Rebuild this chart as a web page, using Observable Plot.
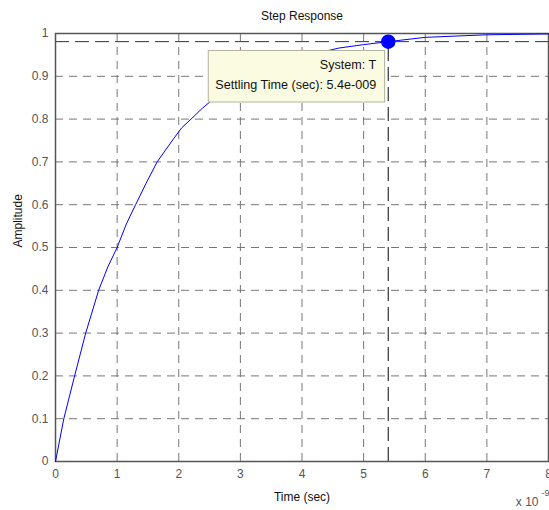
<!DOCTYPE html>
<html><head><meta charset="utf-8">
<script src="https://cdn.jsdelivr.net/npm/d3@7"></script>
<script src="https://cdn.jsdelivr.net/npm/@observablehq/plot@0.6"></script>
<style>
body{margin:0;background:#fff}
svg{font-family:"Liberation Sans",Arial,sans-serif}
</style>
</head><body><div id="chart"></div>
<script>
const title = "Step Response";
const xLabel = "Time (sec)";
const yLabel = "Amplitude";
const xExponentBase = "x 10";
const xExponent = "-9";
const time =      [0, 0.135, 0.31, 0.49, 0.7, 0.85, 1.0, 1.15, 1.3, 1.47, 1.65, 1.92, 2.05, 2.2, 2.38, 2.57, 2.8, 3.0, 3.25, 3.5, 3.75, 4.0, 4.3, 4.6, 5.0, 5.4, 6.0, 7.0, 8.0];
const amplitude = [0, 0.1, 0.2, 0.3, 0.4, 0.455, 0.5, 0.555, 0.6, 0.65, 0.7, 0.755, 0.78, 0.80, 0.825, 0.848, 0.866, 0.878, 0.898, 0.915, 0.93, 0.942, 0.956, 0.966, 0.974, 0.981, 0.991, 0.997, 0.999];
const xTicks = [0, 1, 2, 3, 4, 5, 6, 7, 8];
const yTicks = [0, 0.1, 0.2, 0.3, 0.4, 0.5, 0.6, 0.7, 0.8, 0.9, 1];
const settlingTime = 5.4;
const settlingLevel = 0.981;
const tipLines = ["System: T", "Settling Time (sec): 5.4e-009"];

const data = time.map((t, i) => ({t, a: amplitude[i]}));
const marker = [{t: settlingTime, a: settlingLevel}];
const grey = "#555";

const plot = Plot.plot({
  width: 549, height: 510,
  marginLeft: 55, marginRight: 1, marginTop: 33, marginBottom: 49,
  style: {fontFamily: '"Liberation Sans", Arial, sans-serif', background: "#fff"},
  x: {domain: [0, 8]},
  y: {domain: [0, 1]},
  marks: [
    Plot.gridX(xTicks.slice(1, -1), {stroke: "#777", strokeOpacity: 1, strokeDasharray: "8,6"}),
    Plot.gridY(yTicks.slice(1, -1), {stroke: "#777", strokeOpacity: 1, strokeDasharray: "8,6"}),
    Plot.ruleY([settlingLevel], {stroke: "#333", strokeWidth: 1, strokeDasharray: "14,6"}),
    Plot.ruleX([settlingTime], {y1: 0, y2: settlingLevel, stroke: "#333", strokeWidth: 1.2, strokeDasharray: "14,6"}),
    Plot.frame({stroke: grey, strokeWidth: 1.5}),
    Plot.axisX({ticks: xTicks, tickSize: 0, tickPadding: 8, fontSize: 12, fill: grey, label: null, tickFormat: d => String(d)}),
    Plot.axisY({ticks: yTicks, tickSize: 0, tickPadding: 7, fontSize: 12, fill: grey, label: null, tickFormat: d => String(+d.toFixed(1))}),
    Plot.line(data, {x: "t", y: "a", stroke: "#0000ff", strokeWidth: 1}),
    Plot.dot(marker, {x: "t", y: "a", r: 6.5, fill: "#0000ff", stroke: "#0000ff"}),
    Plot.text([tipLines.join("\n")], {x: () => settlingTime, y: () => settlingLevel, text: d => d, dx: -12, dy: 14, textAnchor: "end", lineAnchor: "top", lineHeight: 1.55, fontSize: 12.6, fill: "#111"}),
    Plot.text([title], {frameAnchor: "top", lineAnchor: "middle", dy: -17, fontSize: 12, fill: "#111"}),
    Plot.text([xLabel], {frameAnchor: "bottom", lineAnchor: "middle", dy: 36, fontSize: 12, fill: "#111"}),
    Plot.text([yLabel], {frameAnchor: "left", lineAnchor: "middle", dx: -37, rotate: -90, fontSize: 12, fill: "#111"}),
    Plot.text([xExponentBase], {frameAnchor: "bottom-right", lineAnchor: "middle", dx: -10, dy: 41, textAnchor: "end", fontSize: 12, fill: grey}),
    Plot.text([xExponent], {frameAnchor: "bottom-right", lineAnchor: "middle", dx: -7, dy: 32, textAnchor: "start", fontSize: 9, fill: grey})
  ]
});
document.getElementById("chart").append(plot);

// background box for the data tip
const tipText = Array.from(plot.querySelectorAll("text")).find(t => t.textContent.includes("Settling"));
if (tipText) {
  const b = tipText.getBBox();
  const rect = document.createElementNS("http://www.w3.org/2000/svg", "rect");
  rect.setAttribute("x", b.x - 7);
  rect.setAttribute("y", b.y - 8);
  rect.setAttribute("width", b.width + 15);
  rect.setAttribute("height", b.height + 18);
  rect.setAttribute("fill", "#fbfbe2");
  rect.setAttribute("stroke", "#b4b4a0");
  rect.setAttribute("stroke-width", "1");
  const tr = tipText.getAttribute("transform");
  if (tr) rect.setAttribute("transform", tr);
  tipText.parentNode.insertBefore(rect, tipText);
}
</script>
</body></html>
